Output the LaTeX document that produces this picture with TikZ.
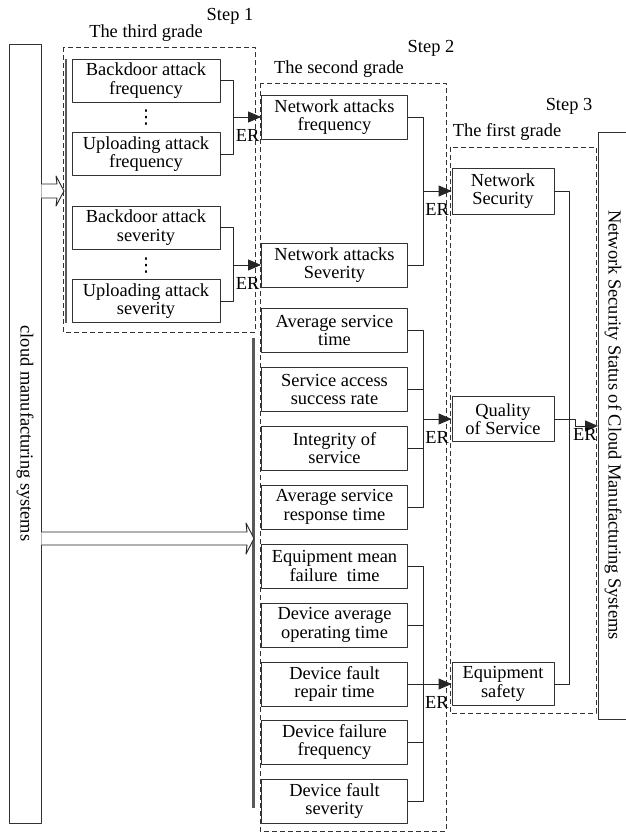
\documentclass[tikz,border=0pt]{standalone}
\usepackage{fontspec}
\setmainfont{Liberation Serif}
\newfontfamily\dotfont{DejaVu Sans}
\usetikzlibrary{arrows.meta,positioning}

\tikzset{
  item/.style={draw=black!80, line width=0.9pt, minimum width=146pt, minimum height=44pt, inner sep=0pt, align=center},
  grade/.style={draw=black!80, line width=0.9pt, dash pattern=on 5pt off 3pt},
  link/.style={draw=black!85, line width=0.9pt},
  er/.style={anchor=north west, inner sep=0pt, xshift=2pt, yshift=-12pt},
  bar/.style={draw=black!65, line width=2.2pt},
  vdot/.style={inner sep=0pt, font=\dotfont\fontsize{19}{19}\selectfont},
}

\begin{document}
\begin{tikzpicture}[x=1pt, y=-1pt, >={Triangle[length=13pt,width=11pt]}, font=\fontsize{18.4}{18.4}\selectfont, line join=round]
	\useasboundingbox (0,0) rectangle (626,835);
	% headings
	\node (s1) at (230,16) {Step 1};
	\node (g3) at (146,33) {The third grade};
	\node (s2) at (431,48) {Step 2};
	\node (g2) at (339,69) {The second grade};
	\node (s3) at (569,106) {Step 3};
	\node (g1) at (507,132) {The first grade};
	% grade frames
	\draw[grade] (63,47) rectangle (255,332);
	\draw[grade] (260,83) rectangle (446,831);
	\draw[grade] (450,147) rectangle (596,713);
	\draw[bar] (66,59) -- (66,323);
	\draw[bar] (253.5,338) -- (253.5,808);
	% outer boxes
	\node[draw=black!80, line width=0.9pt, minimum width=32pt, minimum height=779pt] (cms) at (25,433.5) {};
	\node[rotate=-90] (cmst) at (cms.center) {cloud manufacturing systems};
	\node[draw=black!80, line width=0.9pt, minimum width=50pt, minimum height=587pt, anchor=north west] (nss) at (598,132) {};
	\node[rotate=-90] (nsst) at (613,425) {Network Security Status of Cloud Manufacturing Systems};
	% third grade
	\node[item, minimum width=148pt, minimum height=43pt] (bf) at (146,80.5) {Backdoor attack\\frequency};
	\node[vdot] (d1) at (146,117.5) {⋮};
	\node[item, minimum width=148pt, minimum height=43pt] (uf) at (146,154) {Uploading attack\\frequency};
	\node[item, minimum width=148pt, minimum height=43pt] (bs) at (146,227.5) {Backdoor attack\\severity};
	\node[vdot] (d2) at (146,265.5) {⋮};
	\node[item, minimum width=148pt, minimum height=43pt] (us) at (146,301) {Uploading attack\\severity};
	% second grade
	\node[item] (naf) at (334.5,117) {Network attacks\\frequency};
	\node[item] (nas) at (334.5,265) {Network attacks\\Severity};
	\node[item] (ast) at (334.5,330.5) {Average service\\time};
	\node[item] (sas) at (334.5,389.5) {Service access\\success rate};
	\node[item] (ios) at (334.5,448) {Integrity of\\service};
	\node[item] (asr) at (334.5,507) {Average service\\response time};
	\node[item] (emf) at (334.5,566) {Equipment mean\\failure\ \ time};
	\node[item] (dao) at (334.5,625) {Device average\\operating time};
	\node[item] (dfr) at (334.5,684) {Device fault\\repair time};
	\node[item] (dff) at (334.5,742) {Device failure\\frequency};
	\node[item] (dfs) at (334.5,801) {Device fault\\severity};
	% first grade
	\node[item, minimum width=102pt, minimum height=46pt] (nsec) at (503,191) {Network\\Security};
	\node[item, minimum width=102pt, minimum height=45pt] (qos) at (503,419) {Quality\\of Service};
	\node[item, minimum width=102pt, minimum height=43pt] (eqs) at (503,684) {Equipment\\safety};
	% hollow arrows
	\draw[link, fill=white] (cms.east |- 0,184) -- (57,184) -- (56,176) -- (64,191) -- (56,206) -- (57,198) -- (cms.east |- 0,198);
	\draw[link, fill=white] (cms.east |- 0,532) -- (247,532) -- (246,523) -- (254,538.5) -- (246,554) -- (247,545) -- (cms.east |- 0,545);
	% ER links
	\draw[link] (bf.east) -- ++(13,0) coordinate (j1) |- (uf.east);
	\draw[link,->] (j1 |- naf.west) node[er] (er1) {ER} -- (naf.west);
	\draw[link] (bs.east) -- ++(13,0) coordinate (j2) |- (us.east);
	\draw[link,->] (j2 |- nas.west) node[er] (er2) {ER} -- (nas.west);
	\draw[link] (naf.east) -- ++(15,0) coordinate (j3) |- (nas.east);
	\draw[link,->] (j3 |- nsec.west) node[er] (er3) {ER} -- (nsec.west);
	\draw[link] (ast.east) -- ++(15,0) coordinate (j4) |- (asr.east);
	\draw[link] (sas.east) -- (j4 |- sas.east) (ios.east) -- (j4 |- ios.east);
	\draw[link,->] (j4 |- qos.west) node[er] (er4) {ER} -- (qos.west);
	\draw[link] (emf.east) -- ++(15,0) coordinate (j5) |- (dfs.east);
	\draw[link] (dao.east) -- (j5 |- dao.east) (dff.east) -- (j5 |- dff.east);
	\draw[link,->] (dfr.east) -- (eqs.west);
	\node[er] (er5) at (j5 |- dfr.east) {ER};
	\draw[link] (nsec.east) -- ++(15,0) coordinate (j6) |- (eqs.east);
	\draw[link,->] (qos.east) -- ++(21,0) coordinate (j7) |- (nss.west);
	\node[anchor=north west, inner sep=0pt] (er6) at (573,428) {ER};
\end{tikzpicture}
\end{document}
